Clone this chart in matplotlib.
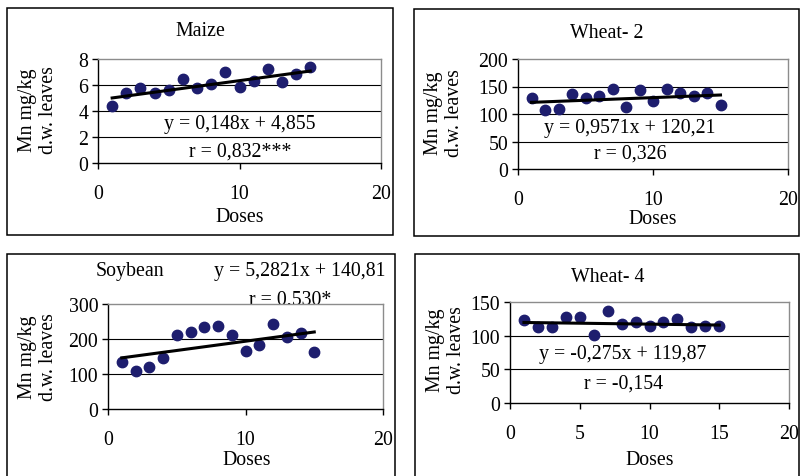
import matplotlib
matplotlib.use("Agg")
import matplotlib.pyplot as plt
from matplotlib.patches import Rectangle

# ---
# Data: Mn in leaves against dose.
doses = list(range(1, 16))

maize = [4.41, 5.36, 5.77, 5.36, 5.62, 6.46, 5.77, 6.05, 7.0, 5.87,
         6.33, 7.26, 6.2, 6.87, 7.41]
wheat2 = [130, 107, 110, 136, 130, 133, 145, 113, 144, 123,
          145, 139, 133, 139, 116]
soybean = [135, 109, 121, 147, 212, 219, 234, 238, 212, 167,
           182, 243, 207, 216, 162]
wheat4 = [123, 112.6, 112.6, 128, 128, 101, 136, 117.5, 120, 115,
          120, 125.4, 112.6, 115, 115]

# slope, intercept of the fitted lines as printed on the chart
fits = {"Maize": (0.148, 4.855), "Wheat- 2": (0.9571, 120.21),
        "Soybean": (5.2821, 140.81), "Wheat- 4": (-0.275, 119.87)}

eq_text = {"Maize": ["y = 0,148x + 4,855", "r = 0,832***"],
           "Wheat- 2": ["y = 0,9571x + 120,21", "r = 0,326"],
           "Soybean": ["y = 5,2821x + 140,81", "r = 0,530*"],
           "Wheat- 4": ["y = -0,275x + 119,87", "r = -0,154"]}

y_ticks = {"Maize": [0, 2, 4, 6, 8], "Wheat- 2": [0, 50, 100, 150, 200],
           "Soybean": [0, 100, 200, 300], "Wheat- 4": [0, 50, 100, 150]}
x_ticks = {"Maize": [0, 10, 20], "Wheat- 2": [0, 10, 20],
           "Soybean": [0, 10, 20], "Wheat- 4": [0, 5, 10, 15, 20]}


# ---
W, H = 801, 477
plt.rcParams['font.family'] = ['Liberation Serif', 'DejaVu Serif']
plt.rcParams['font.size'] = 14.3
fig = plt.figure(figsize=(W / 100, H / 100), dpi=100)

def fx(px):
    return px / W

def fy(py):
    return 1 - py / H

DOT = '#1e1e6e'

def panel(name, yvals, plot_box, outer_box, title_xy, eq_xy, r_xy,
          ylab_x, ylab_y, doses_xy, eq_behind=False):
    # outer chart border
    x0, y0, x1, y1 = outer_box
    fig.patches.append(Rectangle((fx(x0), fy(y1)), fx(x1 - x0), (y1 - y0) / H,
                                 transform=fig.transFigure, fill=False,
                                 edgecolor='black', linewidth=1.1))
    px0, py0, px1, py1 = plot_box
    ax = fig.add_axes([fx(px0), fy(py1), fx(px1 - px0), (py1 - py0) / H])
    ax.set_zorder(1)
    ax.set_facecolor('white')

    yt = y_ticks[name]
    ax.set_xlim(0, 20)
    ax.set_ylim(yt[0], yt[-1])
    ax.set_xticks(x_ticks[name])
    ax.set_yticks(yt)
    for v in yt[1:-1]:
        ax.axhline(v, color='black', linewidth=0.8, zorder=1)
    for s in ['top', 'right']:
        ax.spines[s].set_color('#8c8c8c')
        ax.spines[s].set_linewidth(1.0)
    for s in ['left', 'bottom']:
        ax.spines[s].set_color('black')
        ax.spines[s].set_linewidth(1.0)
    ax.tick_params(axis='x', direction='out', length=4, width=1, pad=11)
    ax.tick_params(axis='y', direction='out', length=4, width=1, pad=3)

    ax.scatter(doses, yvals, s=56, color=DOT, zorder=3, clip_on=False)
    a, b = fits[name]
    ax.plot([doses[0], doses[-1]], [a * doses[0] + b, a * doses[-1] + b],
            color='black', linewidth=2.2, zorder=4)

    fig.text(fx(title_xy[0]), fy(title_xy[1]), name, ha='center', va='center')
    # the soybean r label sits partly under the plot area, as in the original
    z = -1 if eq_behind else 5
    fig.text(fx(eq_xy[0]), fy(eq_xy[1]), eq_text[name][0], ha='center',
             va='center', zorder=5)
    fig.text(fx(r_xy[0]), fy(r_xy[1]), eq_text[name][1], ha='center',
             va='center', zorder=z)
    fig.text(fx(ylab_x), fy(ylab_y), "Mn mg/kg\nd.w. leaves", ha='center',
             va='center', rotation=90, linespacing=1.2, zorder=6)
    fig.text(fx(doses_xy[0]), fy(doses_xy[1]), "Doses", ha='center',
             va='center')
    return ax


panel("Maize", maize, (98, 60, 381, 164), (7, 9, 393, 236),
      (200, 32), (240, 124), (240, 152), 38, 110, (240, 218))
panel("Wheat- 2", wheat2, (518, 60, 788, 170), (414, 10, 799, 237),
      (607, 33), (630, 128), (630, 154), 444, 113, (653, 219))
panel("Soybean", soybean, (108, 305, 383, 410), (7, 255, 395, 490),
      (130, 272), (300, 272), (290, 300), 38, 357, (247, 461),
      eq_behind=True)
panel("Wheat- 4", wheat4, (510, 303, 789, 404), (415, 255, 799, 490),
      (608, 277), (623, 355), (623, 384), 446, 350, (650, 461))

fig.savefig("out.png", dpi=100)
